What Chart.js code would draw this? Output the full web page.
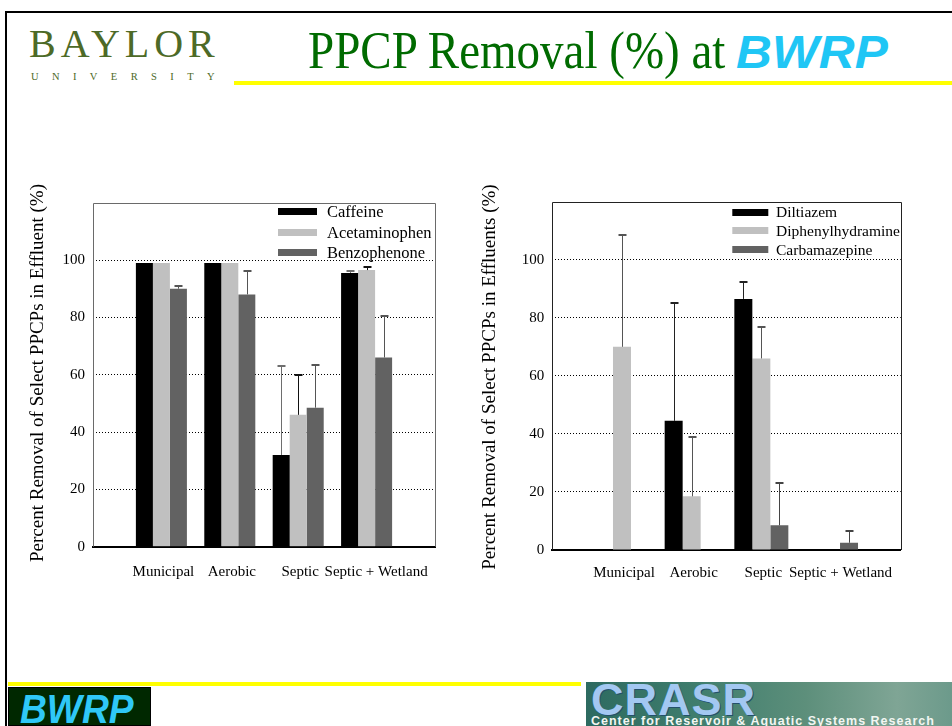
<!DOCTYPE html>
<html>
<head>
<meta charset="utf-8">
<title>PPCP Removal (%) at BWRP</title>
<script src="https://cdn.jsdelivr.net/npm/chart.js@4.4.1/dist/chart.umd.min.js"></script>
<style>
  html, body { margin: 0; padding: 0; background: #fff; }
  body { width: 952px; height: 726px; position: relative; overflow: hidden; font-family: "Liberation Serif", "Times New Roman", serif; }
  .rule { position: absolute; background: #000; }
  .yellow { position: absolute; background: #ffff00; }
  .baylor { position: absolute; left: 29px; top: 24px; font-size: 40px; line-height: 40px; letter-spacing: 5px; color: #4d6a27; white-space: nowrap; }
  .univ { position: absolute; left: 31px; top: 71px; font-size: 10.5px; line-height: 11px; letter-spacing: 13.4px; color: #4d6a27; white-space: nowrap; }
  .title { position: absolute; left: 308px; top: 24px; font-size: 53px; line-height: 53px; color: #006b00; white-space: nowrap; transform: scaleX(0.887); transform-origin: left top; }
  .title-bwrp { position: absolute; left: 736px; top: 29px; font-family: "Liberation Sans", Arial, sans-serif; font-weight: bold; font-style: italic; font-size: 46px; line-height: 46px; color: #1fc6f5; white-space: nowrap; transform: scaleX(1.08); transform-origin: left top; }
  .foot-bwrp { position: absolute; left: 8px; top: 687px; width: 143px; height: 39px; background: #002800; border: 1px solid #000; box-sizing: border-box; }
  .foot-bwrp span { position: absolute; left: 11px; top: 1px; font-family: "Liberation Sans", Arial, sans-serif; font-weight: bold; font-style: italic; font-size: 40px; line-height: 40px; color: #2fc8f7; transform: scaleX(0.93); transform-origin: left top; }
  .crasr { position: absolute; left: 586px; top: 682px; width: 366px; height: 44px; overflow: hidden;
    background: linear-gradient(90deg, #2d6a60 0%, #3f7d6d 30%, #5d8f7b 60%, #7fa595 85%, #6c9a8b 100%); }
  .crasr .big { position: absolute; left: 5px; top: -5px; font-family: "Liberation Sans", Arial, sans-serif; font-weight: bold; font-size: 45px; line-height: 46px; color: #a3c8f2; letter-spacing: 1px; text-shadow: 1px 1px 0 #24506a; }
  .crasr .small { position: absolute; left: 5px; top: 33px; font-family: "Liberation Sans", Arial, sans-serif; font-weight: bold; font-size: 12.5px; line-height: 13px; color: #f2f6f2; white-space: nowrap; letter-spacing: 1px; }
  canvas { position: absolute; }
</style>
</head>
<body>
  <div class="rule" style="left:5px; top:11px; width:947px; height:2px;"></div>
  <div class="rule" style="left:5px; top:11px; width:2px; height:715px;"></div>

  <div class="baylor">BAYLOR</div>
  <div class="univ">UNIVERSITY</div>
  <div class="title">PPCP Removal (%) at</div>
  <div class="title-bwrp">BWRP</div>
  <div class="yellow" style="left:234px; top:81px; width:718px; height:4px;"></div>

  <canvas id="leftChart" width="430" height="420" style="left:20px; top:170px;"></canvas>
  <canvas id="rightChart" width="470" height="420" style="left:470px; top:170px;"></canvas>

  <div class="yellow" style="left:8px; top:682px; width:573px; height:4px;"></div>
  <div class="foot-bwrp"><span>BWRP</span></div>
  <div class="crasr">
    <div class="big">CRASR</div>
    <div class="small">Center for Reservoir &amp; Aquatic Systems Research</div>
  </div>

<script>
const categories = ['Municipal', 'Aerobic', 'Septic', 'Septic + Wetland']
const yTicks = [0, 20, 40, 60, 80, 100]

// left panel: caffeine / acetaminophen / benzophenone
const caffeine = [99, 99, 32, 95.5]
const caffeineErr = [null, null, 31, 0.6]
const acetaminophen = [99, 99, 46, 96.5]
const acetaminophenErr = [null, null, 14, 1]
const benzophenone = [90, 88, 48.5, 66]
const benzophenoneErr = [1, 8, 15, 14.5]

// right panel: diltiazem / diphenhydramine / carbamazepine
const diltiazem = [null, 44.5, 86.5, null]
const diltiazemErr = [null, 40.5, 6, null]
const diphenhydramine = [70, 18.5, 66, null]
const diphenhydramineErr = [38.5, 20.5, 11, null]
const carbamazepine = [null, null, 8.5, 2.5]
const carbamazepineErr = [null, null, 14.5, 4]

const serif = '"Liberation Serif", "Times New Roman", serif'

// empty slot on each side so groups sit at 1..4 of a 0..5 axis
const pad = arr => [null, ...arr, null]

const errorBars = {
    id: 'errorBars',
    afterDatasetsDraw(chart) {
        const ctx = chart.ctx
        const y = chart.scales.y
        chart.data.datasets.forEach((ds, i) => {
            const meta = chart.getDatasetMeta(i)
            meta.data.forEach((bar, j) => {
                const v = ds.data[j]
                const e = ds.errors[j]
                if (v == null || e == null) return
                const top = Math.round(y.getPixelForValue(v + e))
                const x = Math.round(bar.x) + 0.5
                ctx.save()
                ctx.strokeStyle = ds.errorColor
                ctx.lineWidth = 1
                ctx.beginPath()
                ctx.moveTo(x, bar.y)
                ctx.lineTo(x, top)
                ctx.stroke()
                ctx.lineWidth = 2
                ctx.beginPath()
                ctx.moveTo(x - 4, top)
                ctx.lineTo(x + 4, top)
                ctx.stroke()
                ctx.restore()
            })
        })
    }
}

// plot frame (top, left, right), legend inside the plot, rotated y title
const frameLegend = {
    id: 'frameLegend',
    afterDraw(chart, args, opts) {
        const { ctx, chartArea: a } = chart
        ctx.save()
        ctx.strokeStyle = opts.frameColor
        ctx.lineWidth = 1
        ctx.beginPath()
        ctx.moveTo(Math.round(a.left) + 0.5, a.bottom)
        ctx.lineTo(Math.round(a.left) + 0.5, Math.round(a.top) + 0.5)
        ctx.lineTo(Math.round(a.right) + 0.5, Math.round(a.top) + 0.5)
        ctx.lineTo(Math.round(a.right) + 0.5, a.bottom)
        ctx.stroke()

        ctx.font = opts.fontSize + 'px ' + serif
        ctx.textBaseline = 'middle'
        chart.data.datasets.forEach((ds, i) => {
            const cy = a.top + opts.top + i * opts.rowHeight
            ctx.fillStyle = ds.backgroundColor
            ctx.fillRect(a.left + opts.left, Math.round(cy - 3.5), opts.swatch, 7)
            ctx.fillStyle = '#000'
            ctx.fillText(ds.label, a.left + opts.textLeft, cy + 1)
        })

        ctx.translate(opts.titleX, opts.titleY)
        ctx.rotate(-Math.PI / 2)
        ctx.font = '19px ' + serif
        ctx.textAlign = 'center'
        ctx.fillStyle = '#000'
        ctx.fillText(opts.title, 0, 0)
        ctx.restore()
    }
}

function makeChart(id, datasets, o) {
    return new Chart(document.getElementById(id), {
        type: 'bar',
        data: { labels: ['', ...categories, ''], datasets },
        plugins: [errorBars, frameLegend],
        options: {
            responsive: false,
            animation: false,
            devicePixelRatio: 1,
            layout: { padding: o.padding },
            datasets: { bar: { categoryPercentage: o.groupWidth, barPercentage: 1, borderWidth: 0 } },
            plugins: {
                legend: { display: false },
                tooltip: { enabled: false },
                frameLegend: o.legend
            },
            scales: {
                x: {
                    offset: false,
                    grid: { display: false, drawTicks: false },
                    border: { display: true, color: '#000', width: 2 },
                    ticks: {
                        color: '#000',
                        font: { family: serif, size: 15 },
                        padding: o.xPad,
                        labelOffset: 2,
                        maxRotation: 0,
                        autoSkip: false,
                        // the long last label sits a little right of its group
                        callback: (v, i) => i === categories.length ? '\u2003' + categories[i - 1] : (i > 0 && i <= categories.length ? categories[i - 1] : '')
                    },
                    afterFit: s => {
                        s.height = o.xHeight
                        s.paddingLeft = s.paddingRight = 0
                    }
                },
                y: {
                    min: 0,
                    max: 120,
                    afterBuildTicks: s => { s.ticks = yTicks.map(v => ({ value: v })) },
                    afterFit: s => {
                        s.width = o.yWidth
                        s.paddingTop = s.paddingBottom = 0
                    },
                    grid: {
                        drawTicks: false,
                        lineWidth: 1,
                        color: c => (c.tick && c.tick.value === 0) ? 'rgba(0,0,0,0)' : '#000'
                    },
                    border: { display: false, dash: [1, 2] },
                    ticks: { color: '#000', font: { family: serif, size: 15 }, padding: 8 }
                }
            }
        }
    })
}

makeChart('leftChart', [
    { label: 'Caffeine', data: pad(caffeine), errors: pad(caffeineErr), backgroundColor: '#000000', errorColor: '#6e6e6e' },
    { label: 'Acetaminophen', data: pad(acetaminophen), errors: pad(acetaminophenErr), backgroundColor: '#c0c0c0', errorColor: '#111111' },
    { label: 'Benzophenone', data: pad(benzophenone), errors: pad(benzophenoneErr), backgroundColor: '#626262', errorColor: '#555555' }
], {
    padding: { top: 32.7, right: 15, left: 0, bottom: 0 },
    groupWidth: 0.746,
    xHeight: 43.3,
    xPad: 16,
    yWidth: 73,
    legend: {
        frameColor: '#6a6a6a', left: 185, textLeft: 234, top: 8.8, rowHeight: 20.7, swatch: 39, fontSize: 16.5,
        title: 'Percent Removal of Select PPCPs in Effluent (%)', titleX: 18, titleY: 203
    }
})

makeChart('rightChart', [
    { label: 'Diltiazem', data: pad(diltiazem), errors: pad(diltiazemErr), backgroundColor: '#000000', errorColor: '#222222' },
    { label: 'Diphenylhydramine', data: pad(diphenhydramine), errors: pad(diphenhydramineErr), backgroundColor: '#c0c0c0', errorColor: '#555555' },
    { label: 'Carbamazepine', data: pad(carbamazepine), errors: pad(carbamazepineErr), backgroundColor: '#626262', errorColor: '#444444' }
], {
    padding: { top: 31.7, right: 39.3, left: 0, bottom: 0 },
    groupWidth: 0.775,
    xHeight: 40,
    xPad: 14,
    yWidth: 82.3,
    legend: {
        frameColor: '#222222', left: 180, textLeft: 223.7, top: 10.3, rowHeight: 18.8, swatch: 36, fontSize: 15.5,
        title: 'Percent Removal of Select PPCPs in Effluents (%)', titleX: 20, titleY: 207
    }
})
</script>
</body>
</html>
